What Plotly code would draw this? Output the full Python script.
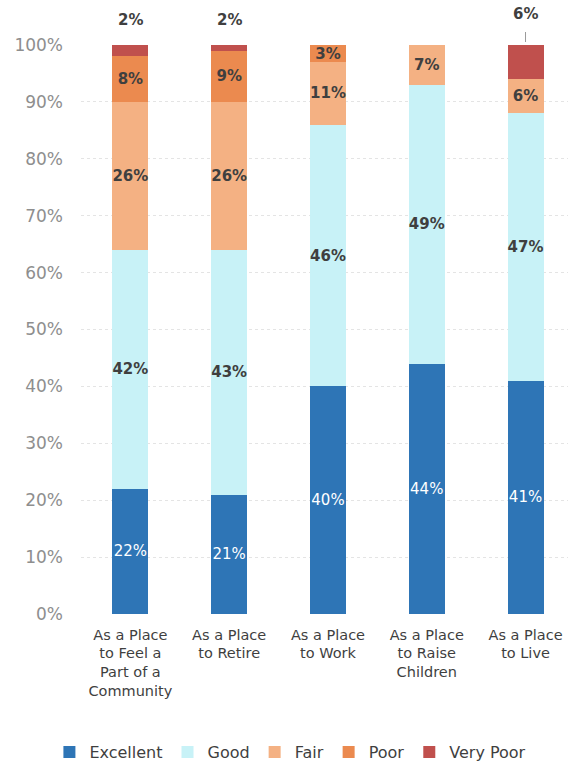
import plotly.graph_objects as go

categories = ["As a Place<br>to Feel a<br>Part of a<br>Community", "As a Place<br>to Retire",
              "As a Place<br>to Work", "As a Place<br>to Raise<br>Children", "As a Place<br>to Live"]
excellent = [22, 21, 40, 44, 41]
good = [42, 43, 46, 49, 47]
fair = [26, 26, 11, 7, 6]
poor = [8, 9, 3, 0, 0]
very_poor = [2, 2, 0, 0, 6]
series_names = ["Excellent", "Good", "Fair", "Poor", "Very Poor"]
colors = ["#2E75B6", "#C8F2F7", "#F4B183", "#EB8A4F", "#C0504D"]
ytick_vals = [0, 10, 20, 30, 40, 50, 60, 70, 80, 90, 100]

series = [excellent, good, fair, poor, very_poor]
FONT = "DejaVu Sans"
DARK = "#3F3F3F"

fig = go.Figure()
for name, vals, col in zip(series_names, series, colors):
    if name == "Very Poor":
        txt = ["" for v in vals]
    else:
        txt = [f"{v}%" if v > 0 else "" for v in vals]
    if name == "Excellent":
        tfont = dict(family=FONT, size=15, color="white")
    else:
        txt = [f"<b>{t}</b>" if t else "" for t in txt]
        tfont = dict(family=FONT, size=15, color=DARK)
    fig.add_trace(go.Bar(
        x=categories, y=vals, name=name, marker=dict(color=col, line=dict(width=0)),
        text=txt, textposition="inside", insidetextanchor="middle",
        textfont=tfont, width=0.365, textangle=0, constraintext="none",
    ))

# Very Poor labels above bars
for i, v in enumerate(very_poor):
    if v > 0:
        total = excellent[i] + good[i] + fair[i] + poor[i] + v
        top = min(total, 100)
        if i == 4:
            fig.add_annotation(x=categories[i], y=top, text=f"<b>{v}%</b>",
                               showarrow=True, arrowhead=0, arrowcolor="#9A9A9A", arrowwidth=1,
                               ax=0, ay=-20, standoff=3, startstandoff=7,
                               font=dict(family=FONT, size=15, color=DARK),
                               yanchor="bottom")
        else:
            fig.add_annotation(x=categories[i], y=top, text=f"<b>{v}%</b>",
                               showarrow=False, yshift=14,
                               font=dict(family=FONT, size=15, color=DARK),
                               yanchor="bottom")

fig.update_layout(
    barmode="stack",
    width=568, height=763,
    margin=dict(l=81, r=0, t=45, b=149),
    plot_bgcolor="white", paper_bgcolor="white",
    showlegend=True,
    legend=dict(orientation="h", x=0.43, xanchor="center",
                yref="container", y=1 - 752 / 763, yanchor="middle",
                font=dict(family=FONT, size=16, color=DARK),
                traceorder="normal", itemwidth=30),
    font=dict(family=FONT, color=DARK),
)
fig.update_yaxes(range=[0, 100], tickvals=ytick_vals, ticktext=[f"{v}%" for v in ytick_vals],
                 showgrid=True, gridcolor="#E4E4E4", griddash="dot", zeroline=False,
                 tickfont=dict(family=FONT, size=17, color="#8E8E8E"), ticks="",
                 ticklabelstandoff=17)
fig.update_xaxes(range=[-0.5, 4.43], tickfont=dict(family=FONT, size=14.5, color=DARK),
                 showline=False, ticks="", tickangle=0, ticklabelstandoff=10)

fig.write_html("out.html", config={"displayModeBar": False},
               post_script="document.body.style.margin='0';document.body.style.overflow='hidden';")
